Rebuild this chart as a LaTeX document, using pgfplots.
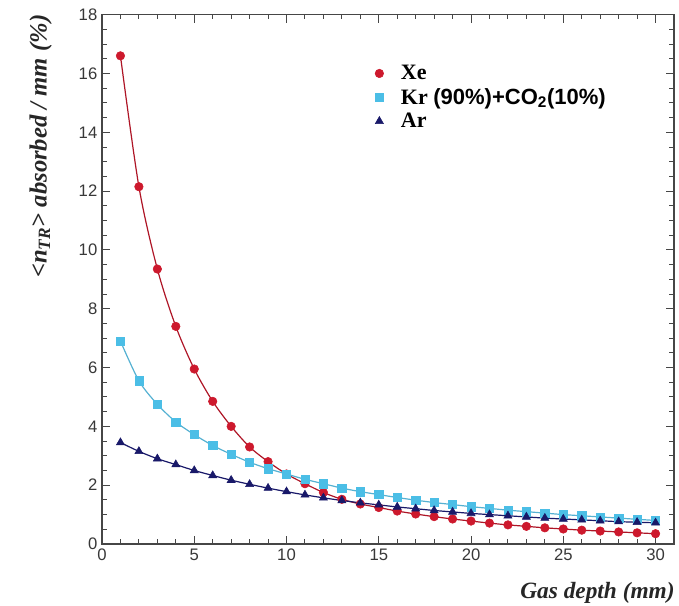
\documentclass[border=0pt]{standalone}
\usepackage{fontspec}
\setmainfont{Liberation Serif}
\setsansfont{Liberation Sans}
\usepackage{pgfplots}
\usepackage{pgfplotstable}
\pgfplotsset{compat=1.18}
\definecolor{xered}{RGB}{205,25,45}
\definecolor{krcyan}{RGB}{75,190,230}
\definecolor{arnavy}{RGB}{25,25,105}
\definecolor{framegray}{RGB}{70,70,70}

\pgfplotstableread{
x y
1 16.6
2 12.15
3 9.35
4 7.4
5 5.95
6 4.85
7 4.0
8 3.3
9 2.8
10 2.38
11 2.05
12 1.75
13 1.52
14 1.36
15 1.24
16 1.12
17 1.02
18 0.93
19 0.85
20 0.78
21 0.71
22 0.65
23 0.60
24 0.55
25 0.51
26 0.47
27 0.44
28 0.41
29 0.38
30 0.35
}\xe

\pgfplotstableread{
x y
1 6.9
2 5.55
3 4.75
4 4.15
5 3.72
6 3.35
7 3.05
8 2.78
9 2.56
10 2.38
11 2.2
12 2.05
13 1.9
14 1.78
15 1.68
16 1.58
17 1.49
18 1.41
19 1.34
20 1.27
21 1.21
22 1.15
23 1.10
24 1.05
25 1.00
26 0.96
27 0.92
28 0.88
29 0.84
30 0.80
}\kr

\pgfplotstableread{
x y
1 3.45
2 3.15
3 2.9
4 2.7
5 2.5
6 2.33
7 2.17
8 2.03
9 1.9
10 1.78
11 1.67
12 1.57
13 1.48
14 1.40
15 1.33
16 1.26
17 1.20
18 1.14
19 1.09
20 1.04
21 1.00
22 0.96
23 0.92
24 0.88
25 0.85
26 0.82
27 0.79
28 0.76
29 0.74
30 0.72
}\ar

\begin{document}
\begin{tikzpicture}
\useasboundingbox (-76.5pt,-46.5pt) rectangle (432.75pt,408pt);
\begin{axis}[
  at={(0,0)}, anchor=south west,
  scale only axis,
  width=429pt, height=397pt,
  xmin=0, xmax=31, ymin=0, ymax=18,
  xtick={0,5,...,30}, ytick={0,2,...,18},
  minor x tick num=4, minor y tick num=3,
  tick align=inside,
  major tick length=6pt, minor tick length=3.5pt,
  axis line style={framegray, line width=0.9pt},
  every tick/.style={framegray, line width=0.7pt},
  tick label style={font=\sffamily\fontsize{12.5}{14}\selectfont, text=framegray!80!black},
  /pgf/number format/assume math mode=true,
  xlabel={\bfseries\itshape Gas depth (mm)},
  ylabel={\bfseries\itshape <n\textsubscript{TR}> absorbed / mm (\%)},
  label style={text=black!85},
  xlabel style={font=\fontsize{17.5}{20}\selectfont, at={(axis description cs:1,0)}, anchor=north east, yshift=-25pt, xshift=4pt},
  ylabel style={font=\fontsize{18.5}{21}\selectfont, at={(axis description cs:0,1)}, anchor=south east, yshift=34pt, xshift=3.5pt},
  legend style={draw=none, fill=none, at={(0.47,0.915)}, anchor=north west,
    font=\fontsize{16.5}{18}\selectfont, row sep=1pt,
    /tikz/every odd column/.append style={column sep=11pt},
    cells={anchor=west}},
  legend cell align=left,
]
\addplot[forget plot, smooth, xered!85!black, line width=0.9pt] table {\xe};
\addplot[forget plot, smooth, krcyan!80!gray, line width=0.9pt] table {\kr};
\addplot[forget plot, smooth, arnavy, line width=0.9pt] table {\ar};
\addplot[only marks, mark=*, mark size=3.2pt, color=xered] table {\xe};
\addlegendentry{\bfseries Xe}
\addplot[only marks, mark=square*, mark size=3.1pt, color=krcyan] table {\kr};
\addlegendentry{\bfseries Kr {\sffamily (90\%)+CO\textsubscript{2}(10\%)}}
\addplot[only marks, mark=triangle*, mark size=3.5pt, color=arnavy] table {\ar};
\addlegendentry{\bfseries Ar}
\end{axis}
\end{tikzpicture}
\end{document}
